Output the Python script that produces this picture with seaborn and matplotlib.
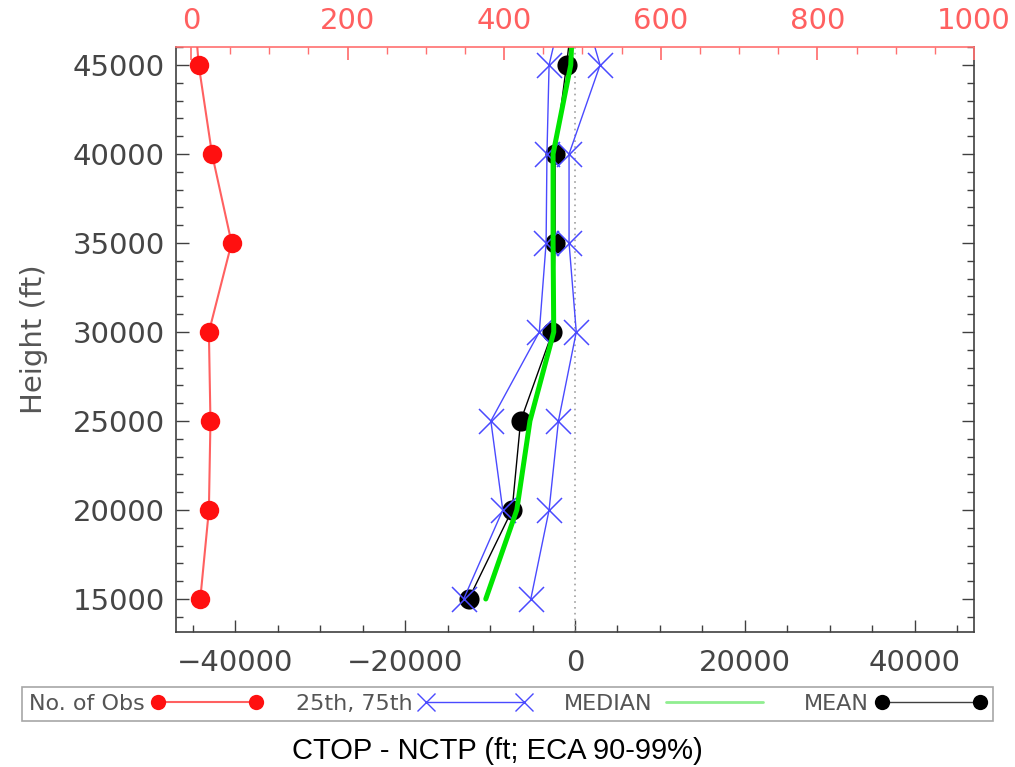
import matplotlib
matplotlib.use("Agg")
import matplotlib.pyplot as plt
from matplotlib.lines import Line2D
from matplotlib.ticker import MultipleLocator
import seaborn as sns

# ---- data ----
heights = [15000, 20000, 25000, 30000, 35000, 40000, 45000, 50000]
n_obs = [12, 23, 25, 23, 52, 27, 10, 1]
p25 = [-13100, -8500, -9900, -4200, -3400, -3300, -3050, -600]
p75 = [-5200, -3050, -1950, 150, -700, -700, 2950, -100]
median = [-10500, -6850, -5300, -2500, -2580, -2580, -500, -50]
mean = [-12500, -7400, -6400, -2650, -2350, -2350, -1000, 250]

y_ticks = [15000, 20000, 25000, 30000, 35000, 40000, 45000]
x_ticks = [-40000, -20000, 0, 20000, 40000]
top_ticks = [0, 200, 400, 600, 800, 1000]

sns.set_theme(style="white")
plt.rcParams['font.family'] = ['DejaVu Sans']

W, H = 1015, 767
fig = plt.figure(figsize=(W / 100, H / 100), dpi=100)
ax = fig.add_axes([176 / W, 1 - 632 / H, (974 - 176) / W, (632 - 47) / H])

lab_col = '#454545'
red_c = '#ff1010'
red_line = '#ff6060'
blue_c = '#4a4aff'
green_c = '#00e600'

ax.axvline(0, color='#a0a0a0', ls=(0, (1, 2.5)), lw=1.2, zorder=1)

sns.lineplot(x=mean, y=heights, sort=False, estimator=None, ax=ax, color='black',
             lw=1.0, marker='o', markersize=14.5, markeredgewidth=0, zorder=3)
for vals in (p25, p75):
    sns.lineplot(x=vals, y=heights, sort=False, estimator=None, ax=ax, color=blue_c,
                 lw=1.0, marker='x', markersize=18, markeredgewidth=1.1,
                 markeredgecolor=blue_c, zorder=4)
sns.lineplot(x=median, y=heights, sort=False, estimator=None, ax=ax, color=green_c,
             lw=3.6, zorder=5)

ax.set_xlim(-46950, 46950)
ax.set_ylim(13146, 46011)
ax.set_xticks(x_ticks)
ax.set_xticklabels([f"{v:d}".replace('-', '\u2212') for v in x_ticks])
ax.xaxis.set_minor_locator(MultipleLocator(5000))
ax.set_yticks(y_ticks)
ax.yaxis.set_minor_locator(MultipleLocator(1000))
ax.tick_params(axis='both', which='both', direction='in', colors='#404040',
               labelcolor=lab_col, labelsize=21)
ax.tick_params(axis='x', which='both', top=False, bottom=True, pad=12)
ax.tick_params(axis='y', which='both', left=True, right=True, pad=8)
ax.tick_params(which='major', length=9, width=1)
ax.tick_params(which='minor', length=5, width=1)
ax.set_xlabel('')
ax.set_ylabel('Height (ft)', fontsize=21, color='#555555', labelpad=18)
for s in ['left', 'right', 'bottom']:
    ax.spines[s].set_color('#404040')
    ax.spines[s].set_linewidth(1.2)
ax.spines['top'].set_visible(False)

# top axis: number of observations
ax2 = ax.twiny()
sns.lineplot(x=n_obs, y=heights, sort=False, estimator=None, ax=ax2, color=red_line,
             lw=1.5, marker='o', markersize=14, markerfacecolor=red_c,
             markeredgewidth=0, zorder=3)
for l in ax2.lines:
    l.set_markerfacecolor(red_c)
ax2.set_xlim(-19, 1000)
ax2.set_ylim(13146, 46011)
ax2.set_xticks(top_ticks)
ax2.xaxis.set_minor_locator(MultipleLocator(50))
ax2.tick_params(axis='x', which='both', direction='in', colors='#ff7070',
                labelcolor='#ff6060', labelsize=21, pad=9)
ax2.tick_params(axis='x', which='major', length=9)
ax2.tick_params(axis='x', which='minor', length=5)
ax2.set_xlabel('')
ax2.set_ylabel('')
for s in ['left', 'right', 'bottom']:
    ax2.spines[s].set_visible(False)
ax2.spines['top'].set_color('#ff7070')
ax2.spines['top'].set_linewidth(1.2)

# legend
handles = [
    Line2D([], [], color=red_line, lw=1.5, marker='o', markersize=11,
           markerfacecolor=red_c, markeredgewidth=0),
    Line2D([], [], color=blue_c, lw=1.0, marker='x', markersize=13, markeredgewidth=1),
    Line2D([], [], color='#90ee90', lw=2.0),
    Line2D([], [], color='#404040', lw=1.0, marker='o', markersize=11,
           markerfacecolor='black', markeredgewidth=0),
]
labels = ['No. of Obs', '25th, 75th', 'MEDIAN', 'MEAN']
leg = fig.legend(handles, labels, loc='center', ncol=4, numpoints=2,
                 markerfirst=False, mode='expand', fontsize=16,
                 bbox_to_anchor=(22 / W, 1 - 720 / H, (993 - 22) / W, 32 / H),
                 handlelength=5.0, handletextpad=0.3, columnspacing=1.5,
                 frameon=True, fancybox=False, borderpad=0.3, borderaxespad=0)
leg.get_frame().set_edgecolor('#909090')
leg.get_frame().set_linewidth(1.2)
for t in leg.get_texts():
    t.set_color('#555555')

fig.text(497 / W, 1 - 751 / H, 'CTOP - NCTP (ft; ECA 90-99%)', ha='center', va='center',
         fontsize=21, color='black', family=['Liberation Sans', 'DejaVu Sans'])

fig.savefig('out.png', dpi=100)
